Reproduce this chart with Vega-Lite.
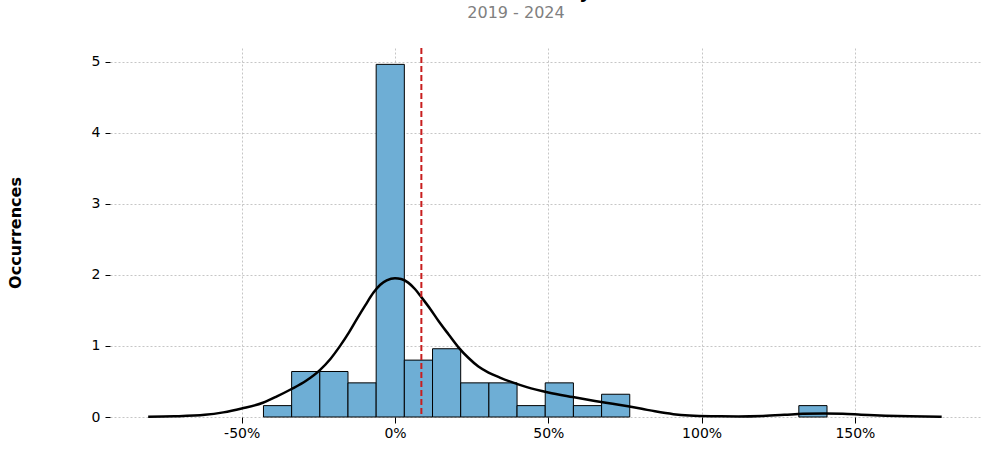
{
  "$schema": "https://vega.github.io/schema/vega-lite/v6.json",
  "width": 870,
  "height": 369,
  "autosize": "none",
  "padding": {"left": 110, "top": 48, "right": 14, "bottom": 38},
  "background": "white",
  "config": {
    "view": {"stroke": null},
    "font": "DejaVu Sans",
    "axis": {"labelFont": "DejaVu Sans", "titleFont": "DejaVu Sans"}
  },
  "title": {
    "text": "Distribution of Monthly Returns",
    "subtitle": "2019 - 2024",
    "font": "DejaVu Sans",
    "fontSize": 18,
    "fontWeight": "bold",
    "color": "black",
    "subtitleFont": "DejaVu Sans",
    "subtitleFontSize": 16,
    "subtitleColor": "#808080",
    "subtitlePadding": 3,
    "anchor": "middle",
    "dx": -29,
    "offset": 26
  },
  "datasets": {
    "bins": [
      {"start": -42.9, "end": -33.71, "density": 0.16, "base": 0},
      {"start": -33.71, "end": -24.52, "density": 0.64, "base": 0},
      {"start": -24.52, "end": -15.33, "density": 0.64, "base": 0},
      {"start": -15.33, "end": -6.14, "density": 0.48, "base": 0},
      {"start": -6.14, "end": 3.05, "density": 4.96, "base": 0},
      {"start": 3.05, "end": 12.24, "density": 0.80, "base": 0},
      {"start": 12.24, "end": 21.43, "density": 0.96, "base": 0},
      {"start": 21.43, "end": 30.62, "density": 0.48, "base": 0},
      {"start": 30.62, "end": 39.81, "density": 0.48, "base": 0},
      {"start": 39.81, "end": 49.0, "density": 0.16, "base": 0},
      {"start": 49.0, "end": 58.19, "density": 0.48, "base": 0},
      {"start": 58.19, "end": 67.38, "density": 0.16, "base": 0},
      {"start": 67.38, "end": 76.57, "density": 0.32, "base": 0},
      {"start": 131.71, "end": 140.9, "density": 0.16, "base": 0}
    ],
    "kde": [
      {"x": -80.5, "y": 0.004},
      {"x": -72, "y": 0.01},
      {"x": -62, "y": 0.03},
      {"x": -56, "y": 0.065},
      {"x": -50, "y": 0.12},
      {"x": -43.1, "y": 0.2},
      {"x": -38.5, "y": 0.29},
      {"x": -33.9, "y": 0.39},
      {"x": -29, "y": 0.51},
      {"x": -24.5, "y": 0.66},
      {"x": -21, "y": 0.82},
      {"x": -17.9, "y": 1.0},
      {"x": -15, "y": 1.19},
      {"x": -12.4, "y": 1.38},
      {"x": -9.7, "y": 1.57},
      {"x": -7.0, "y": 1.75},
      {"x": -4.8, "y": 1.86},
      {"x": -2.7, "y": 1.92},
      {"x": 0.0, "y": 1.95},
      {"x": 2.0, "y": 1.94},
      {"x": 4.3, "y": 1.89},
      {"x": 6.5, "y": 1.8},
      {"x": 8.7, "y": 1.68},
      {"x": 11.5, "y": 1.52},
      {"x": 14.2, "y": 1.35},
      {"x": 17.5, "y": 1.16},
      {"x": 20.7, "y": 0.98},
      {"x": 24, "y": 0.83},
      {"x": 27.2, "y": 0.71},
      {"x": 30.5, "y": 0.625},
      {"x": 34.2, "y": 0.555},
      {"x": 38.1, "y": 0.49},
      {"x": 43, "y": 0.42},
      {"x": 50, "y": 0.345},
      {"x": 58, "y": 0.28},
      {"x": 65.2, "y": 0.225},
      {"x": 71, "y": 0.185},
      {"x": 76.0, "y": 0.15},
      {"x": 80.5, "y": 0.115},
      {"x": 84.8, "y": 0.08},
      {"x": 90.8, "y": 0.04},
      {"x": 96, "y": 0.02},
      {"x": 103, "y": 0.01},
      {"x": 112, "y": 0.008},
      {"x": 120, "y": 0.015},
      {"x": 127, "y": 0.03},
      {"x": 133, "y": 0.045},
      {"x": 140, "y": 0.05},
      {"x": 146, "y": 0.045},
      {"x": 152, "y": 0.033},
      {"x": 160, "y": 0.018},
      {"x": 168, "y": 0.009},
      {"x": 178.3, "y": 0.004}
    ],
    "mean": [{"x": 8.6}]
  },
  "layer": [
    {
      "data": {"name": "bins"},
      "mark": {"type": "rect", "fill": "#6eaed5", "stroke": "black", "strokeWidth": 1},
      "encoding": {
        "x": {
          "field": "start", "type": "quantitative",
          "scale": {"domain": [-92.95, 190.8], "nice": false, "zero": false},
          "axis": {
            "values": [-50, 0, 50, 100, 150],
            "labelExpr": "datum.value + '%'",
            "title": null,
            "domain": false,
            "grid": true,
            "gridColor": "#b8b8b8",
            "gridDash": [2, 2],
            "gridWidth": 0.8,
            "tickSize": 6,
            "tickColor": "black",
            "tickWidth": 1,
            "labelPadding": 3,
            "labelFontSize": 14,
            "labelColor": "black"
          }
        },
        "x2": {"field": "end"},
        "y": {
          "field": "density", "type": "quantitative",
          "scale": {"domain": [0, 5.19], "nice": false},
          "axis": {
            "values": [0, 1, 2, 3, 4, 5],
            "format": "d",
            "title": "Occurrences",
            "titleFontSize": 16,
            "titleFontWeight": "bold",
            "titleColor": "black",
            "titlePadding": 68,
            "domain": false,
            "grid": true,
            "gridColor": "#b8b8b8",
            "gridDash": [2, 2],
            "gridWidth": 0.8,
            "tickSize": 5,
            "tickColor": "black",
            "tickWidth": 1,
            "labelPadding": 5,
            "labelFontSize": 14,
            "labelColor": "black"
          }
        },
        "y2": {"field": "base"}
      }
    },
    {
      "data": {"name": "kde"},
      "mark": {"type": "line", "color": "black", "strokeWidth": 2.5, "interpolate": "monotone"},
      "encoding": {
        "x": {"field": "x", "type": "quantitative"},
        "y": {"field": "y", "type": "quantitative"}
      }
    },
    {
      "data": {"name": "mean"},
      "mark": {"type": "rule", "color": "#c81e1e", "strokeWidth": 2, "strokeDash": [6, 3]},
      "encoding": {
        "x": {"field": "x", "type": "quantitative"}
      }
    }
  ]
}
